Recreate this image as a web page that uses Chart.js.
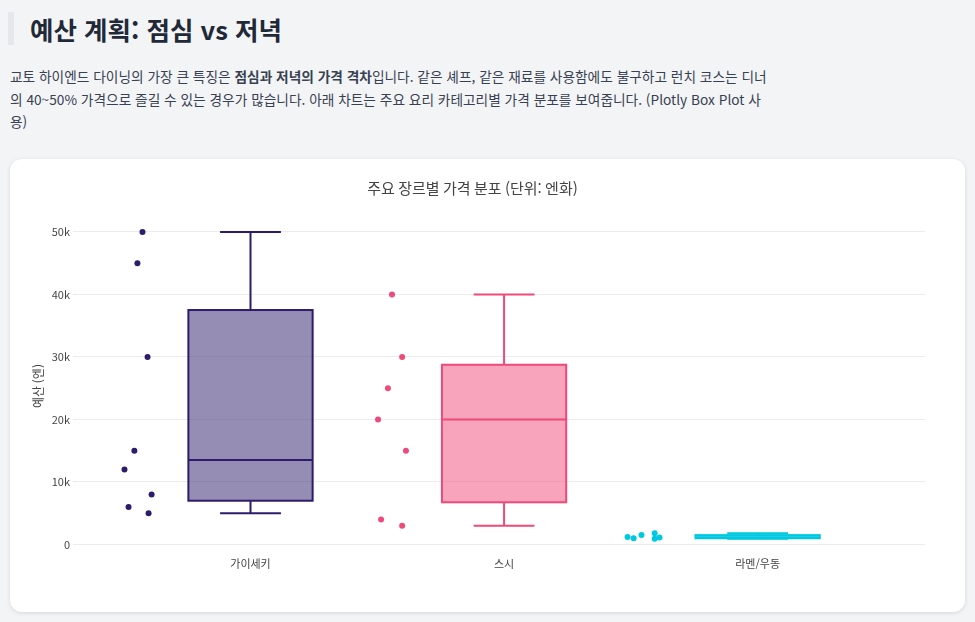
<!DOCTYPE html>
<html lang="ko">
<head>
<meta charset="utf-8">
<script src="https://cdn.jsdelivr.net/npm/chart.js@4.4.1/dist/chart.umd.min.js"></script>
<style>
    html, body { margin: 0; padding: 0; }
    body {
        background: #f3f4f6;
        font-family: "Noto Sans CJK KR", "Noto Sans", sans-serif;
        color: #374151;
        width: 975px;
        height: 622px;
        overflow: hidden;
        position: relative;
    }
    h2 {
        position: absolute;
        left: 8px;
        top: 12px;
        margin: 0;
        padding-left: 16px;
        border-left: 6px solid #e5e7eb;
        font-size: 25.5px;
        line-height: 33px;
        font-weight: 700;
        color: #1f2937;
    }
    p.desc {
        position: absolute;
        left: 10px;
        top: 65px;
        width: 765px;
        margin: 0;
        font-size: 13.7px;
        line-height: 22.5px;
    }
    .card {
        position: absolute;
        left: 10px;
        top: 159px;
        width: 955px;
        height: 453px;
        background: #fff;
        border-radius: 12px;
        box-shadow: 0 1px 4px rgba(0, 0, 0, 0.12);
    }
</style>
</head>
<body>
<h2>예산 계획: 점심 vs 저녁</h2>
<p class="desc">교토 하이엔드 다이닝의 가장 큰 특징은 <b>점심과 저녁의 가격 격차</b>입니다. 같은 셰프, 같은 재료를 사용함에도 불구하고 런치 코스는 디너의 40~50% 가격으로 즐길 수 있는 경우가 많습니다. 아래 차트는 주요 요리 카테고리별 가격 분포를 보여줍니다. (Plotly Box Plot 사용)</p>
<div class="card">
    <canvas id="chart" width="955" height="453"></canvas>
</div>

<script>
// categories and price samples (yen)
const categories = ['가이세키', '스시', '라멘/우동'];
const kaisekiPrices = [50000, 45000, 30000, 15000, 12000, 8000, 6000, 5000];
const sushiPrices = [40000, 30000, 25000, 20000, 15000, 4000, 3000];
const ramenPrices = [1200, 1000, 1500, 1800, 900, 1100];

// horizontal jitter of each point (in category units)
const kaisekiJitter = [-0.426, -0.446, -0.406, -0.458, -0.497, -0.39, -0.481, -0.402];
const sushiJitter = [-0.442, -0.402, -0.458, -0.497, -0.387, -0.485, -0.402];
const ramenJitter = [-0.513, -0.489, -0.458, -0.406, -0.406, -0.387];

const yTicks = [0, 10000, 20000, 30000, 40000, 50000];
const colors = ['#2d1b6b', '#ef4a79', '#00c8e0'];

const series = [kaisekiPrices, sushiPrices, ramenPrices];
const jitters = [kaisekiJitter, sushiJitter, ramenJitter];

// same interpolation plotly uses for quartiles
function quantile(sorted, p) {
    const n = sorted.length * p - 0.5;
    if (n < 0) return sorted[0];
    if (n > sorted.length - 1) return sorted[sorted.length - 1];
    const i = Math.floor(n);
    const f = n - i;
    return sorted[i] + (i + 1 < sorted.length ? f * (sorted[i + 1] - sorted[i]) : 0);
}

function boxStats(values) {
    const s = [...values].sort((a, b) => a - b);
    const q1 = quantile(s, 0.25);
    const q3 = quantile(s, 0.75);
    const iqr = q3 - q1;
    const lo = s.filter(v => v >= q1 - 1.5 * iqr)[0];
    const hi = s.filter(v => v <= q3 + 1.5 * iqr).pop();
    return { q1, med: quantile(s, 0.5), q3, lo, hi };
}

function withAlpha(hex, a) {
    const r = parseInt(hex.slice(1, 3), 16), g = parseInt(hex.slice(3, 5), 16), b = parseInt(hex.slice(5, 7), 16);
    return `rgba(${r},${g},${b},${a})`;
}

// draws the boxes + whiskers behind the points
const boxPlugin = {
    id: 'boxes',
    beforeDatasetsDraw(chart) {
        const { ctx, scales: { x, y } } = chart;
        ctx.save();
        series.forEach((values, idx) => {
            const st = boxStats(values);
            const cx = x.getPixelForValue(idx);
            const half = x.getPixelForValue(idx + 0.245) - cx;
            const cap = x.getPixelForValue(idx + 0.12) - cx;
            const yq1 = y.getPixelForValue(st.q1), yq3 = y.getPixelForValue(st.q3);
            const ymed = y.getPixelForValue(st.med);
            const ylo = y.getPixelForValue(st.lo), yhi = y.getPixelForValue(st.hi);

            ctx.lineWidth = 2;
            ctx.strokeStyle = colors[idx];
            ctx.fillStyle = withAlpha(colors[idx], 0.5);
            ctx.fillRect(cx - half, yq3, half * 2, yq1 - yq3);
            ctx.strokeRect(cx - half, yq3, half * 2, yq1 - yq3);

            ctx.beginPath();
            ctx.moveTo(cx - half, ymed); ctx.lineTo(cx + half, ymed);
            // whiskers
            ctx.moveTo(cx, yq3); ctx.lineTo(cx, yhi);
            ctx.moveTo(cx, yq1); ctx.lineTo(cx, ylo);
            // caps
            ctx.moveTo(cx - cap, yhi); ctx.lineTo(cx + cap, yhi);
            ctx.moveTo(cx - cap, ylo); ctx.lineTo(cx + cap, ylo);
            ctx.stroke();
        });
        ctx.restore();
    }
};

const ctx = document.getElementById('chart').getContext('2d');
new Chart(ctx, {
    type: 'scatter',
    data: {
        datasets: series.map((values, idx) => ({
            label: categories[idx],
            data: values.map((v, i) => ({ x: idx + jitters[idx][i], y: v })),
            backgroundColor: colors[idx],
            borderColor: colors[idx],
            pointRadius: 3,
            pointBorderWidth: 0
        }))
    },
    options: {
        responsive: false,
        animation: false,
        layout: { padding: { left: 10, right: 40, top: 0, bottom: 0 } },
        plugins: {
            legend: { display: false },
            tooltip: { enabled: false },
            title: {
                display: true,
                text: '주요 장르별 가격 분포 (단위: 엔화)',
                color: '#444',
                font: { family: '"Noto Sans CJK KR", sans-serif', size: 15, weight: 'normal' },
                padding: { top: 20, bottom: 18 }
            }
        },
        scales: {
            x: {
                type: 'linear',
                min: -0.7,
                max: 2.66,
                grid: { display: false, drawTicks: false },
                border: { display: false },
                afterBuildTicks: scale => { scale.ticks = categories.map((c, i) => ({ value: i })); },
                afterFit: scale => { scale.height = 55; },
                ticks: {
                    color: '#444',
                    padding: 0,
                    font: { family: '"Noto Sans CJK KR", sans-serif', size: 11 },
                    callback: v => categories[v]
                }
            },
            y: {
                min: -2000,
                max: 52700,
                grid: { color: '#ececec', drawTicks: false, lineWidth: 1 },
                border: { display: false },
                afterBuildTicks: scale => { scale.ticks = yTicks.map(v => ({ value: v })); },
                afterFit: scale => { scale.width = 53; },
                title: {
                    display: true,
                    text: '예산 (엔)',
                    color: '#444',
                    font: { family: '"Noto Sans CJK KR", sans-serif', size: 12 },
                    padding: { top: 11, bottom: 0 }
                },
                ticks: {
                    color: '#444',
                    padding: 3,
                    font: { family: '"Noto Sans CJK KR", sans-serif', size: 11 },
                    callback: v => v === 0 ? '0' : (v / 1000) + 'k'
                }
            }
        }
    },
    plugins: [boxPlugin]
});
</script>
</body>
</html>
